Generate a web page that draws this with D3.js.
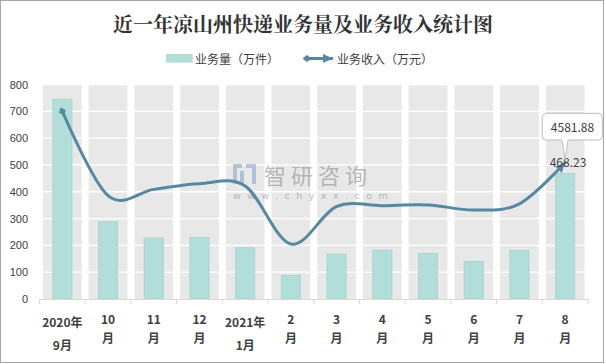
<!DOCTYPE html>
<html><head><meta charset="utf-8">
<script src="https://cdn.jsdelivr.net/npm/d3@7/dist/d3.min.js"></script>
<style>
html,body{margin:0;padding:0;background:#fff;}
svg{display:block;font-family:"Noto Sans CJK SC","Microsoft YaHei",sans-serif;}
</style></head>
<body><svg id="c" width="606" height="364"></svg>
<script>
const categories = ["2020年9月","10月","11月","12月","2021年1月","2月","3月","4月","5月","6月","7月","8月"];
const labelLine1 = ["2020年","10","11","12","2021年","2","3","4","5","6","7","8"];
const labelLine2 = ["9月","月","月","月","1月","月","月","月","月","月","月","月"];
const volume = [745, 288, 227, 230, 191, 88, 167, 182, 170, 140, 181, 468.23];   // 万件
const revenue = [6300, 3470, 3680, 3870, 3790, 1845, 3105, 3132, 3159, 2988, 3195, 4581.88]; // 万元
const yTicks = [0,100,200,300,400,500,600,700,800];
const title = "近一年凉山州快递业务量及业务收入统计图";
const legendBar = "业务量（万件）";
const legendLine = "业务收入（万元）";

const svg = d3.select("#c");
const L = 39.5, R = 588, T = 84.5, B = 299;
const x = d3.scaleBand().domain(categories).range([L, R]).padding(0);
const y = d3.scaleLinear().domain([0, 800]).range([B, T]);
const y2 = d3.scaleLinear().domain([0, 7200]).range([B, T]);
const bw = x.bandwidth();
const textCol = "#404040";
const lineCol = "#5589A2";

// border
svg.append("rect").attr("x",0.5).attr("y",0.5).attr("width",603).attr("height",362)
  .attr("fill","#fff").attr("stroke","#A6A6A6");

// title
svg.append("text").attr("x",303).attr("y",23).attr("text-anchor","middle")
  .attr("dominant-baseline","central").attr("font-size",20).attr("font-weight","bold")
  .attr("fill","#333").attr("font-family","'Noto Serif CJK SC','Noto Sans CJK SC',serif").text(title);

// gray bands
svg.append("g").selectAll("rect").data(categories).join("rect")
  .attr("x", d => x(d) + bw*0.5 - bw*0.424).attr("width", bw*0.848)
  .attr("y", y(800)).attr("height", y(0)-y(800)).attr("fill","#E8E8E8");

// gridlines
svg.append("g").selectAll("line").data(yTicks.filter(d=>d>0)).join("line")
  .attr("x1", L).attr("x2", R).attr("y1", d=>y(d)).attr("y2", d=>y(d))
  .attr("stroke","#fff").attr("stroke-width",1.3);

// bars
svg.append("g").selectAll("rect").data(volume).join("rect")
  .attr("x",(d,i)=> x(categories[i]) + bw/2 - bw*0.208).attr("width", bw*0.416)
  .attr("y", d=>y(d)).attr("height", d=>y(0)-y(d))
  .attr("fill","#B2DEDA").attr("stroke","#A5D6D1").attr("stroke-width",1);

// axis
const xa = svg.append("g").attr("transform",`translate(0,${B})`)
  .call(d3.axisBottom(x).tickSize(0).tickFormat(""));
xa.select(".domain").attr("stroke","#D9D9D9");
xa.append("g").selectAll("line").data(d3.range(categories.length+1)).join("line")
  .attr("x1", i => L + i*bw).attr("x2", i => L + i*bw).attr("y1",0).attr("y2",5)
  .attr("stroke","#D9D9D9");

// y labels
svg.append("g").selectAll("text").data(yTicks).join("text")
  .attr("x",28).attr("y",d=>y(d)).attr("text-anchor","end").attr("dominant-baseline","central")
  .attr("font-size",11).attr("fill",textCol).attr("font-family","'Liberation Sans',Arial,sans-serif").text(d=>d);

// x labels
const xl = svg.append("g").attr("font-size",12).attr("font-weight","bold").attr("fill",textCol);
categories.forEach((c,i) => {
  const cx = x(c) + bw/2;
  const two = labelLine1[i].includes("年");
  xl.append("text").attr("x",cx).attr("y", two?321.5:318.5).attr("text-anchor","middle")
    .attr("dominant-baseline","central").text(labelLine1[i]);
  xl.append("text").attr("x",cx).attr("y", two?344.5:337.5).attr("text-anchor","middle")
    .attr("dominant-baseline","central").text(labelLine2[i]);
});

// watermark
const wm = svg.append("g").attr("opacity",0.55);
wm.append("rect").attr("x",233).attr("y",164).attr("width",9).attr("height",4).attr("fill","#8E9CC0");
wm.append("rect").attr("x",233).attr("y",164).attr("width",4).attr("height",20).attr("fill","#8E9CC0");
wm.append("rect").attr("x",240).attr("y",171).attr("width",4).attr("height",13).attr("fill","#7FA0D0");
wm.append("rect").attr("x",246).attr("y",164).attr("width",10).attr("height",4).attr("fill","#8E9CC0");
wm.append("rect").attr("x",252).attr("y",164).attr("width",4).attr("height",20).attr("fill","#7FA0D0");
wm.append("text").attr("x",264).attr("y",173.5).attr("dominant-baseline","central")
  .attr("font-size",22).attr("letter-spacing",5).attr("fill","#8A8A8A").text("智研咨询");
wm.append("text").attr("x",233).attr("y",195).attr("dominant-baseline","central")
  .attr("font-size",9.5).attr("letter-spacing",6.5).attr("fill","#8A8A8A")
  .attr("font-family","'DejaVu Sans',sans-serif").text("www.chyxx.com");

// markers
const defs = svg.append("defs");
defs.append("marker").attr("id","dia").attr("viewBox","-5 -5 10 10").attr("refX",0).attr("refY",0)
  .attr("markerWidth",9).attr("markerHeight",9).attr("markerUnits","userSpaceOnUse").attr("orient","auto")
  .append("path").attr("d","M-5,0L0,-4L5,0L0,4Z").attr("fill",lineCol);
defs.append("marker").attr("id","arr").attr("viewBox","-10 -5 10 10").attr("refX",0).attr("refY",0)
  .attr("markerWidth",10).attr("markerHeight",10).attr("markerUnits","userSpaceOnUse").attr("orient","auto")
  .append("path").attr("d","M-10,-4.5L0,0L-10,4.5Z").attr("fill",lineCol);

// line
const line = d3.line().x((d,i)=> x(categories[i]) + bw/2).y(d=>y2(d)).curve(d3.curveCardinal.tension(0));
svg.append("path").datum(revenue).attr("d",line).attr("fill","none")
  .attr("stroke",lineCol).attr("stroke-width",3)
  .attr("marker-start","url(#dia)").attr("marker-end","url(#arr)");

// labels for last point
const lx = x(categories[11]) + bw/2;
svg.append("text").attr("x",568).attr("y",161).attr("text-anchor","middle").attr("dominant-baseline","central")
  .attr("font-size",12).attr("fill",textCol).text(volume[11].toFixed(2));
const ly = y2(revenue[11]);
svg.append("path")
  .attr("d",`M546.3,113.3 H598.3 Q602.3,113.3 602.3,117.3 V136 Q602.3,140 598.3,140 H568 L${lx},${ly-3} L562,140 H546.3 Q542.3,140 542.3,136 V117.3 Q542.3,113.3 546.3,113.3 Z`)
  .attr("fill","#fff").attr("stroke","#BFBFBF");
svg.append("text").attr("x",572.5).attr("y",126.7).attr("text-anchor","middle").attr("dominant-baseline","central")
  .attr("font-size",12).attr("fill",textCol).text(revenue[11].toFixed(2));

// legend
svg.append("rect").attr("x",166).attr("y",54).attr("width",26.7).attr("height",8.7).attr("fill","#B2DEDA");
svg.append("text").attr("x",195).attr("y",58.5).attr("dominant-baseline","central")
  .attr("font-size",12).attr("fill",textCol).text(legendBar);
svg.append("line").attr("x1",307).attr("x2",333).attr("y1",58.5).attr("y2",58.5)
  .attr("stroke",lineCol).attr("stroke-width",3)
  .attr("marker-start","url(#dia)").attr("marker-end","url(#arr)");
svg.append("text").attr("x",337).attr("y",58.5).attr("dominant-baseline","central")
  .attr("font-size",12).attr("fill",textCol).text(legendLine);
</script></body></html>
